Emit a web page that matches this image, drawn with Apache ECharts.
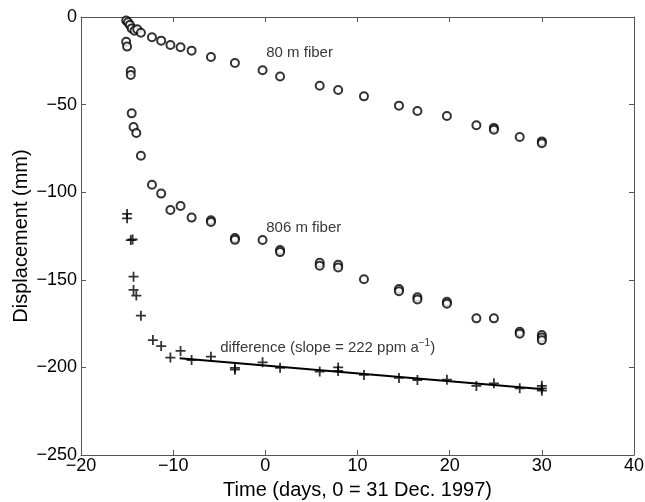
<!DOCTYPE html>
<html>
<head>
<meta charset="utf-8">
<script src="https://cdn.jsdelivr.net/npm/echarts@6/dist/echarts.min.js"></script>
<style>
  html, body { margin: 0; padding: 0; background: #fff; }
  #chart { width: 645px; height: 502px; }
</style>
</head>
<body>
<div id="chart"></div>
<script>
// 80 m fiber: [day, displacement mm]
const fiber80 = [
  [-15.1, -2], [-14.9, -3], [-14.7, -4.5], [-14.5, -6.5], [-14.2, -7.8], [-13.9, -7], [-13.5, -9],
  [-12.3, -11.6], [-11.3, -13.5], [-10.3, -16], [-9.2, -17.3], [-8.0, -19.2], [-5.9, -22.8],
  [-3.3, -26.3], [-0.3, -30.4], [1.6, -34], [5.9, -39.2], [7.9, -41.7], [10.7, -45.3],
  [14.5, -50.6], [16.5, -53.7], [19.7, -56.5], [22.9, -61.8], [24.8, -63.3], [24.8, -64.3],
  [27.6, -68.5], [30.0, -71], [30.0, -72]
];
// 806 m fiber
const fiber806 = [
  [-15.1, -14.1], [-15.0, -16.9], [-14.6, -30.8], [-14.6, -33.1], [-14.5, -55], [-14.3, -62.8],
  [-14.0, -66.2], [-13.5, -79.2], [-12.3, -95.7], [-11.3, -100.8], [-10.3, -110.2], [-9.2, -107.9],
  [-8.0, -114.5], [-5.9, -116], [-5.9, -117], [-3.3, -126.2], [-3.3, -127.2], [-0.3, -127.3],
  [1.6, -133], [1.6, -134.2], [5.9, -140.3], [5.9, -142], [7.9, -141.4], [7.9, -143],
  [10.7, -149.7], [14.5, -155.3], [14.5, -156.5], [16.5, -160], [16.5, -161.2], [19.7, -162.5],
  [19.7, -163.7], [22.9, -172], [24.8, -172], [27.6, -179.7], [27.6, -180.8],
  [30.0, -181.5], [30.0, -183], [30.0, -184.5]
];
// difference (806 m - 80 m)
const diffPts = [
  [-15.0, -112.4], [-15.0, -114.9], [-14.6, -127.3], [-14.4, -127], [-14.3, -148.2],
  [-14.3, -155.8], [-14.0, -159], [-13.5, -170.5], [-12.2, -184.4], [-11.3, -187.8],
  [-10.3, -194.4], [-9.2, -190.6], [-8.0, -195.8], [-5.9, -193.9], [-3.3, -200.3], [-3.3, -201.3],
  [-0.3, -197.1], [1.6, -200.2], [5.9, -202.4], [7.9, -200], [7.9, -202], [10.7, -204.3],
  [14.5, -206], [16.5, -207.2], [19.7, -207], [22.9, -210.6], [24.8, -209.1], [27.6, -211.9],
  [30.0, -210.5], [30.0, -212], [30.0, -213.3]
];
// fitted line (slope = 222 ppm a^-1)
const fitLine = [[-9.3, -194.8], [30.2, -212.5]];

// annotation anchors
const notes = [
  { value: [0.1, -20.5], name: '80 m fiber' },
  { value: [0.1, -120.6], name: '806 m fiber' },
  { value: [-4.9, -189], name: 'difference' }
];

const xTicks = { min: -20, max: 40, step: 10 };
const yTicks = { min: -250, max: 0, step: 50 };

const font = 'Liberation Sans, Arial, Helvetica, sans-serif';
const axisColor = '#555';
const minus = v => String(v).replace('-', '\u2212');

const chart = echarts.init(document.getElementById('chart'));

const plusPath = 'path://M4.1,0h1.8v4.1h4.1v1.8h-4.1v4.1h-1.8v-4.1h-4.1v-1.8h4.1z';

chart.setOption({
  animation: false,
  backgroundColor: '#fff',
  grid: { left: 81, top: 17, right: 11, bottom: 47, outerBoundsMode: 'none', containLabel: false },
  xAxis: [
    {
      type: 'value', min: xTicks.min, max: xTicks.max, interval: xTicks.step,
      name: 'Time (days, 0 = 31 Dec. 1997)', nameLocation: 'middle', nameGap: 25,
      nameMoveOverlap: false,
      nameTextStyle: { fontFamily: font, fontSize: 20, color: '#000' },
      axisLine: { onZero: false, lineStyle: { color: axisColor, width: 1 } },
      axisTick: { inside: true, length: 5, lineStyle: { color: axisColor } },
      axisLabel: { fontFamily: font, fontSize: 18, color: '#000', margin: 2, formatter: minus },
      splitLine: { show: false }
    },
    {
      type: 'value', position: 'top', min: xTicks.min, max: xTicks.max, interval: xTicks.step,
      axisLine: { onZero: false, lineStyle: { color: axisColor, width: 1 } },
      axisTick: { inside: true, length: 5, lineStyle: { color: axisColor } },
      axisLabel: { show: false }, splitLine: { show: false }
    }
  ],
  yAxis: [
    {
      type: 'value', min: yTicks.min, max: yTicks.max, interval: yTicks.step,
      name: 'Displacement (mm)', nameLocation: 'middle', nameGap: 50,
      nameMoveOverlap: false,
      nameTextStyle: { fontFamily: font, fontSize: 20, color: '#000' },
      axisLine: { show: true, onZero: false, lineStyle: { color: axisColor, width: 1 } },
      axisTick: { show: true, inside: true, length: 5, lineStyle: { color: axisColor } },
      axisLabel: { fontFamily: font, fontSize: 18, color: '#000', margin: 4, formatter: minus },
      splitLine: { show: false }
    },
    {
      type: 'value', position: 'right', min: yTicks.min, max: yTicks.max, interval: yTicks.step,
      axisLine: { show: true, onZero: false, lineStyle: { color: axisColor, width: 1 } },
      axisTick: { show: true, inside: true, length: 5, lineStyle: { color: axisColor } },
      axisLabel: { show: false }, splitLine: { show: false }
    }
  ],
  series: [
    {
      name: '80 m fiber', type: 'scatter', data: fiber80,
      symbol: 'circle', symbolSize: 8,
      itemStyle: { color: '#fff', borderColor: '#000', borderWidth: 2 }
    },
    {
      name: '806 m fiber', type: 'scatter', data: fiber806,
      symbol: 'circle', symbolSize: 8,
      itemStyle: { color: '#fff', borderColor: '#000', borderWidth: 2 }
    },
    {
      name: 'fit', type: 'line', data: fitLine, symbol: 'none',
      lineStyle: { color: '#000', width: 2 }
    },
    {
      name: 'difference', type: 'scatter', data: diffPts,
      symbol: plusPath, symbolSize: 10,
      itemStyle: { color: '#000' }
    },
    {
      name: 'notes', type: 'scatter', data: notes, symbolSize: 0, silent: true,
      label: {
        show: true, position: 'right', distance: 0,
        fontFamily: font, fontSize: 15, color: '#000',
        formatter: p => p.name === 'difference'
          ? '{t|difference (slope = 222 ppm a}{s|\u22121}{t|)}'
          : p.name,
        rich: {
          t: { fontFamily: font, fontSize: 15, color: '#000', lineHeight: 19 },
          s: { fontFamily: font, fontSize: 10, color: '#000', verticalAlign: 'top', lineHeight: 10 }
        }
      }
    }
  ]
});
</script>
</body>
</html>
